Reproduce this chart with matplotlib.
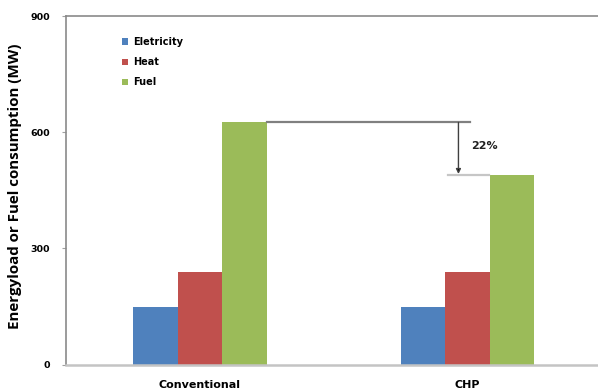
import matplotlib
matplotlib.use("Agg")
import matplotlib.pyplot as plt
import numpy as np

# Data
categories = ["Conventional", "CHP"]
series_names = ["Eletricity", "Heat", "Fuel"]
electricity = [148, 148]
heat = [240, 240]
fuel = [625, 490]
reduction_label = "22%"
y_ticks = [0, 300, 600, 900]

colors = ["#4F81BD", "#C0504D", "#9BBB59"]

fig = plt.figure(figsize=(5.98, 3.92), dpi=100)
ax = fig.add_axes([66 / 598, 27.5 / 392, 535.4 / 598, 348.5 / 392])

x = np.arange(len(categories))
width = 0.166
for i, (vals, name, c) in enumerate(zip([electricity, heat, fuel], series_names, colors)):
    ax.bar(x + (i - 1) * width, vals, width, color=c, label=name, zorder=2)

ax.set_xlim(-0.5, 1.5)
ax.set_ylim(0, 900)
ax.set_yticks(y_ticks)
ax.set_yticklabels([str(t) for t in y_ticks], fontsize=6.8, fontweight="bold",
                   family="DejaVu Sans")
ax.set_xticks(x)
ax.set_xticklabels(categories, fontsize=8, fontweight="bold", family="DejaVu Sans")
ax.tick_params(axis="x", length=0, pad=11)
ax.tick_params(axis="y", length=3, width=0.8, color="#A0A0A0", pad=8.5)

for side in ["left", "top"]:
    ax.spines[side].set_color("#8A8A8A")
    ax.spines[side].set_linewidth(1.2)
ax.spines["bottom"].set_color("#C4C4C4")
ax.spines["bottom"].set_linewidth(1.8)
ax.spines["right"].set_visible(False)

ax.set_ylabel("Energyload or Fuel consumption (MW)", fontsize=10.9, fontweight="bold",
              family="Open Sans")
ax.yaxis.set_label_coords(-0.083, 0.512)

# Reduction annotation between the two fuel bars
x_left = x[0] + 1.5 * width
x_right = x[1] + 0.5 * width
ax.plot([x_left, 1.009], [fuel[0], fuel[0]], color="#808080", lw=1.6, zorder=3)
ax.plot([x_right - 0.155, x_right - 0.002], [fuel[1], fuel[1]], color="#C6C6C6", lw=1.6, zorder=3)
ax.annotate("", xy=(0.966, fuel[1] + 2), xytext=(0.966, fuel[0]),
            arrowprops=dict(arrowstyle="-|>", color="#606060", lw=1.0,
                            mutation_scale=7, shrinkA=0, shrinkB=0,
                            fc="black", ec="#404040"), zorder=4)
ax.text(1.012, (fuel[0] + fuel[1]) / 2 + 6, reduction_label, fontsize=8,
        fontweight="bold", family="DejaVu Sans", va="center", ha="left", color="#202020")

leg = ax.legend(loc="upper left", bbox_to_anchor=(0.089, 0.965), frameon=False,
                prop=dict(family="DejaVu Sans", weight="bold", size=7),
                handlelength=0.6, handleheight=0.6, handletextpad=0.5,
                labelspacing=1.05)

fig.savefig("out.png", dpi=100)
